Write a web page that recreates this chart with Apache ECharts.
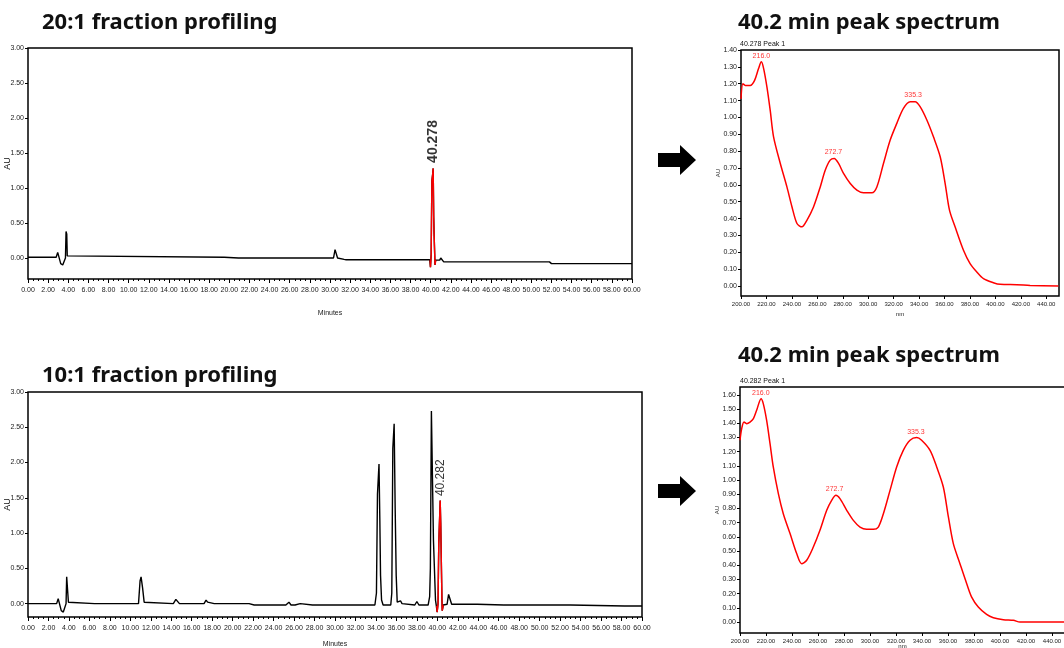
<!DOCTYPE html>
<html>
<head>
<meta charset="utf-8">
<title>fraction profiling</title>
<script src="https://cdn.jsdelivr.net/npm/echarts@6/dist/echarts.min.js"></script>
<style>
html, body { margin: 0; padding: 0; background: #fff; }
#main { width: 1064px; height: 648px; }
</style>
</head>
<body>
<div id="main"></div>
<script>
// chromatogram 20:1  [minutes, AU]
var traceA20 = [[0,0.01],[0.6,0.01],[0.7,0.0],[0.8,0.01],[2.8,0.01],[2.95,0.08],[3.1,0.06],[3.25,-0.08],[3.45,-0.1],[3.6,-0.09],[3.72,0.0],[3.78,0.38],[3.85,0.34],[3.9,0.03],[4.05,0.01],[19.5,0.01],[19.6,0.0],[20.9,0.0],[21.0,0.01],[21.1,0.0],[22.9,0.0],[23.0,0.01],[23.1,0.0],[26.5,0.0],[26.6,0.01],[26.7,0.0],[30.35,0.0],[30.5,0.12],[30.62,0.11],[30.75,0.0],[30.9,-0.02],[31.4,-0.02],[31.5,0.0],[31.6,-0.025],[39.9,-0.025]];
var peak20 = [[39.95,-0.03],[39.98,-0.13],[40.02,-0.13],[40.05,0.05],[40.12,1.1],[40.2,1.2],[40.25,1.28],[40.3,0.6],[40.34,0.35],[40.4,0.33],[40.43,-0.1],[40.47,-0.1],[40.5,-0.03]];
var traceB20 = [[40.55,-0.03],[40.9,-0.03],[41.0,0.0],[41.1,0.01],[41.3,-0.055],[51.5,-0.055],[51.65,-0.065],[51.8,-0.055],[52.0,-0.08],[60,-0.08]];
var peakTime20 = [40.25];
var peakTop20 = [1.28];
var peakName20 = ['40.278'];

// chromatogram 10:1
var traceA10 = [[0,0],[2.8,0],[2.95,0.07],[3.1,0.06],[3.25,-0.1],[3.45,-0.12],[3.6,-0.11],[3.72,0.0],[3.78,0.38],[3.9,0.37],[3.95,0.02],[4.05,0],[6.5,0],[6.6,0.02],[6.7,0],[6.8,0.02],[6.9,0],[10.8,0],[10.95,0.32],[11.05,0.38],[11.12,0.37],[11.2,0.22],[11.35,0.02],[11.5,0],[14.2,0],[14.45,0.06],[14.6,0.05],[14.8,0],[17.2,0],[17.4,0.05],[17.55,0.02],[17.7,0],[18.2,0],[18.35,0.02],[18.5,0],[21.6,0],[21.7,-0.02],[22.1,-0.02],[22.2,0],[22.3,-0.02],[22.6,-0.02],[22.7,0],[22.8,-0.02],[23.5,-0.02],[23.6,0],[23.7,-0.02],[24.1,-0.02],[24.2,0],[24.3,-0.02],[25.0,-0.02],[25.1,0],[25.2,-0.02],[25.5,0.02],[25.7,-0.02],[26.1,-0.02],[26.2,0],[26.6,0],[26.7,-0.02],[27.8,-0.02],[27.9,0],[28.0,-0.02],[30.6,-0.02],[30.7,0.0],[30.8,-0.02],[32.9,-0.02],[33.0,-0.03],[33.2,-0.02],[33.9,-0.02],[34.05,0.15],[34.15,1.55],[34.3,1.98],[34.38,1.2],[34.45,0.4],[34.55,0.05],[34.7,-0.02],[35.45,-0.02],[35.55,0.15],[35.65,2.2],[35.78,2.55],[35.88,1.35],[35.98,0.4],[36.08,0.02],[36.25,0.0],[36.4,0.04],[36.55,0.0],[36.7,-0.02],[37.8,-0.02],[38.0,0.03],[38.2,-0.02],[39.1,-0.02],[39.25,0.1],[39.32,0.5],[39.42,2.73],[39.55,2.73],[39.62,0.9],[39.72,0.9],[39.82,0.05],[39.9,-0.03]];
var peak10 = [[39.95,-0.03],[39.98,-0.12],[40.04,-0.12],[40.07,0.0],[40.14,0.85],[40.28,1.46],[40.33,1.15],[40.4,1.15],[40.45,0.05],[40.48,-0.1],[40.55,-0.1],[40.58,-0.02]];
var traceB10 = [[40.6,-0.02],[40.95,-0.01],[41.1,0.13],[41.25,0.12],[41.4,-0.01],[43.9,-0.01],[44.0,-0.02],[46.5,-0.02],[46.6,0.0],[46.7,-0.02],[47.1,-0.02],[47.2,0.0],[47.3,-0.02],[47.8,-0.02],[47.9,0.0],[48.0,-0.02],[48.3,-0.02],[48.4,0.0],[48.5,-0.02],[53.0,-0.02],[53.1,-0.035],[58.3,-0.035],[58.4,-0.015],[58.5,-0.035],[60,-0.035]];
var peakTime10 = [40.28];
var peakTop10 = [1.46];
var peakName10 = ['40.282'];

// UV spectra [nm, AU]
var spec20 = [[200,1.11],[201.5,1.20],[203.4,1.19],[207.3,1.19],[210.7,1.22],[213.8,1.29],[216.0,1.33],[217.8,1.29],[220.4,1.18],[223,1.04],[225.6,0.885],[230.9,0.727],[236.1,0.588],[240.1,0.469],[244,0.371],[247.9,0.351],[251.8,0.39],[257,0.469],[262.3,0.588],[266.2,0.687],[270.1,0.747],[273.3,0.757],[276.7,0.727],[280.6,0.668],[285.9,0.608],[291.1,0.569],[296.3,0.553],[302.9,0.553],[306.8,0.588],[312,0.727],[317.3,0.866],[322.5,0.965],[327.7,1.054],[333,1.093],[336.9,1.093],[340.8,1.064],[346.1,0.985],[351.3,0.885],[356.6,0.767],[360.5,0.608],[363.9,0.45],[368.3,0.351],[374.9,0.212],[380.1,0.133],[385.4,0.083],[390.6,0.044],[398.4,0.02],[403.7,0.01],[416.8,0.008],[427.3,0.004],[449.5,0.0]];
var specPeakNm20 = [216.0, 272.7, 335.3];
var specPeakAu20 = [1.33, 0.757, 1.095];

var spec10 = [[200,1.28],[201.3,1.362],[203.1,1.408],[205.1,1.397],[207.7,1.408],[210.3,1.432],[212.8,1.491],[216.2,1.573],[217.9,1.538],[220.5,1.42],[223.1,1.256],[225.6,1.092],[229.5,0.904],[233.3,0.763],[238.5,0.623],[243.6,0.482],[247.4,0.411],[251.3,0.435],[256.4,0.528],[261.5,0.646],[266.7,0.787],[270.5,0.857],[273.8,0.892],[276.9,0.869],[282.1,0.787],[287.2,0.716],[292.3,0.669],[297.4,0.653],[302.6,0.653],[306.4,0.669],[310.3,0.763],[315.4,0.927],[320.5,1.092],[325.6,1.209],[330.8,1.28],[335.9,1.299],[339.7,1.28],[346.2,1.209],[351.3,1.092],[356.4,0.951],[360.3,0.74],[364.1,0.552],[369.2,0.411],[374.4,0.27],[378.2,0.176],[383.3,0.106],[389.7,0.054],[394.9,0.031],[402.6,0.017],[410.3,0.012],[415.4,0.0],[450,0.0]];
var specPeakNm10 = [216.0, 272.7, 335.3];
var specPeakAu10 = [1.573, 0.892, 1.299];

// tick labels
var chromTicks = [0, 0.5, 1.0, 1.5, 2.0, 2.5, 3.0];
var specTicks20 = [0, 0.1, 0.2, 0.3, 0.4, 0.5, 0.6, 0.7, 0.8, 0.9, 1.0, 1.1, 1.2, 1.3, 1.4];
var specTicks10 = [0, 0.1, 0.2, 0.3, 0.4, 0.5, 0.6, 0.7, 0.8, 0.9, 1.0, 1.1, 1.2, 1.3, 1.4, 1.5, 1.6];

var titles = ['20:1 fraction profiling', '40.2 min peak spectrum', '10:1 fraction profiling', '40.2 min peak spectrum'];
var specHeads = ['40.278 Peak 1', '40.282 Peak 1'];

var narrow = "'Liberation Sans Narrow', 'Liberation Sans', sans-serif";
var fmt2 = function (v) { return v.toFixed(2); };

function zip(xs, ys) {
	var out = [];
	for (var i = 0; i < xs.length; i++) out.push([xs[i], ys[i]]);
	return out;
}

function chromX(gi, gap) {
	return {
		type: 'value', gridIndex: gi, min: 0, max: 60, interval: 2,
		axisLine: { show: false, onZero: false },
		axisTick: { length: 4, lineStyle: { color: '#000' } },
		minorTick: { show: true, splitNumber: 4, length: 2, lineStyle: { color: '#000' } },
		splitLine: { show: false },
		axisLabel: { fontSize: 7, fontFamily: narrow, color: '#222', margin: 8, formatter: fmt2 },
		name: 'Minutes', nameLocation: 'middle', nameGap: gap, nameMoveOverlap: false,
		nameTextStyle: { fontSize: 7, fontFamily: narrow, color: '#222' }
	};
}

function chromY(gi, min) {
	return {
		type: 'value', gridIndex: gi, min: min, max: 3,
		axisLine: { show: false },
		axisTick: { customValues: chromTicks, length: 3, lineStyle: { color: '#000' } },
		splitLine: { show: false },
		axisLabel: { customValues: chromTicks, fontSize: 7, fontFamily: narrow, color: '#222', margin: 4, formatter: fmt2 },
		name: 'AU', nameLocation: 'middle', nameRotate: 90, nameGap: 16, nameMoveOverlap: false,
		nameTextStyle: { fontSize: 9, fontFamily: narrow, color: '#111' }
	};
}

function specX(gi, gap) {
	return {
		type: 'value', gridIndex: gi, min: 200, max: 450, interval: 20,
		axisLine: { show: false, onZero: false },
		axisTick: { length: 3, lineStyle: { color: '#000' } },
		splitLine: { show: false },
		axisLabel: { fontSize: 6, fontFamily: narrow, color: '#222', margin: 5, formatter: fmt2 },
		name: 'nm', nameLocation: 'middle', nameGap: gap, nameMoveOverlap: false,
		nameTextStyle: { fontSize: 6, fontFamily: narrow, color: '#222' }
	};
}

function specY(gi, min, max, ticks) {
	return {
		type: 'value', gridIndex: gi, min: min, max: max,
		axisLine: { show: false },
		axisTick: { customValues: ticks, length: 3, lineStyle: { color: '#000' } },
		splitLine: { show: false },
		axisLabel: { customValues: ticks, fontSize: 7, fontFamily: narrow, color: '#222', margin: 4, formatter: fmt2 },
		name: 'AU', nameLocation: 'middle', nameRotate: 90, nameGap: 20, nameMoveOverlap: false,
		nameTextStyle: { fontSize: 6, fontFamily: narrow, color: '#222' }
	};
}

function trace(gi, data, color) {
	return {
		type: 'line', xAxisIndex: gi, yAxisIndex: gi, data: data,
		symbol: 'none', lineStyle: { color: color, width: 1.4 }, z: color == '#000' ? 2 : 3
	};
}

function peakTag(gi, data, names, size, bold, off, dist) {
	return {
		type: 'scatter', xAxisIndex: gi, yAxisIndex: gi, data: data,
		symbolSize: 1, itemStyle: { color: 'rgba(0,0,0,0)' }, z: 5,
		label: {
			show: true, position: 'top', distance: dist, rotate: 90, offset: [off, 0],
			align: 'left', verticalAlign: 'middle',
			fontSize: size, fontWeight: bold ? 'bold' : 'normal', fontFamily: narrow, color: '#000',
			formatter: function (p) { return names[p.dataIndex]; }
		}
	};
}

function specPeaks(gi, data) {
	return {
		type: 'scatter', xAxisIndex: gi, yAxisIndex: gi, data: data,
		symbolSize: 1, itemStyle: { color: 'rgba(0,0,0,0)' },
		label: {
			show: true, position: 'top', distance: 2,
			fontSize: 7, fontFamily: narrow, color: '#f00',
			formatter: function (p) { return p.value[0].toFixed(1); }
		}
	};
}

function titleText(x, y, text) {
	return {
		type: 'text', left: x, top: y,
		style: { text: text, fontSize: 22, fontWeight: 'bold', fontFamily: "'Noto Sans', sans-serif", fill: '#111' }
	};
}

function arrow(cy) {
	return {
		type: 'polygon',
		shape: { points: [[658, cy - 7], [680, cy - 7], [680, cy - 15], [696, cy], [680, cy + 15], [680, cy + 7], [658, cy + 7]] },
		style: { fill: '#000' }
	};
}

var boxGrid = { show: true, borderColor: '#000', borderWidth: 1.5, backgroundColor: 'transparent', outerBoundsMode: 'none', containLabel: false };

var chart = echarts.init(document.getElementById('main'));
var option = {
	animation: false,
	backgroundColor: '#fff',
	grid: [
		Object.assign({ left: 28, top: 48, width: 604, height: 231 }, boxGrid),
		Object.assign({ left: 28, top: 392, width: 614, height: 225 }, boxGrid),
		Object.assign({ left: 741, top: 50, width: 318, height: 246 }, boxGrid),
		Object.assign({ left: 740, top: 387, width: 325, height: 246 }, boxGrid)
	],
	xAxis: [chromX(0, 31), chromX(1, 24), specX(2, 15), specX(3, 10)],
	yAxis: [
		chromY(0, -0.3),
		chromY(1, -0.19),
		specY(2, -0.059, 1.40, specTicks20),
		specY(3, -0.077, 1.655, specTicks10)
	],
	series: [
		trace(0, traceA20.concat(peak20, traceB20), '#000'),
		trace(0, peak20, '#f00'),
		peakTag(0, zip(peakTime20, peakTop20), peakName20, 14, true, 5, 0),
		trace(1, traceA10.concat(peak10, traceB10), '#000'),
		trace(1, peak10, '#f00'),
		peakTag(1, zip(peakTime10, peakTop10), peakName10, 12, false, 3, 1),
		{
			type: 'line', xAxisIndex: 2, yAxisIndex: 2, data: spec20, smooth: 0.3,
			symbol: 'none', lineStyle: { color: '#f00', width: 1.5 }
		},
		specPeaks(2, zip(specPeakNm20, specPeakAu20)),
		{
			type: 'line', xAxisIndex: 3, yAxisIndex: 3, data: spec10, smooth: 0.3,
			symbol: 'none', lineStyle: { color: '#f00', width: 1.5 }
		},
		specPeaks(3, zip(specPeakNm10, specPeakAu10))
	],
	graphic: [
		titleText(42, 12, titles[0]),
		titleText(738, 12, titles[1]),
		titleText(42, 365, titles[2]),
		titleText(738, 345, titles[3]),
		arrow(160),
		arrow(491),
		{ type: 'text', left: 740, top: 41, style: { text: specHeads[0], fontSize: 7, fontFamily: narrow, fill: '#111' } },
		{ type: 'text', left: 740, top: 378, style: { text: specHeads[1], fontSize: 7, fontFamily: narrow, fill: '#111' } }
	]
};
chart.setOption(option);

window.addEventListener('resize', function () {
	chart.resize();
});
</script>
</body>
</html>
